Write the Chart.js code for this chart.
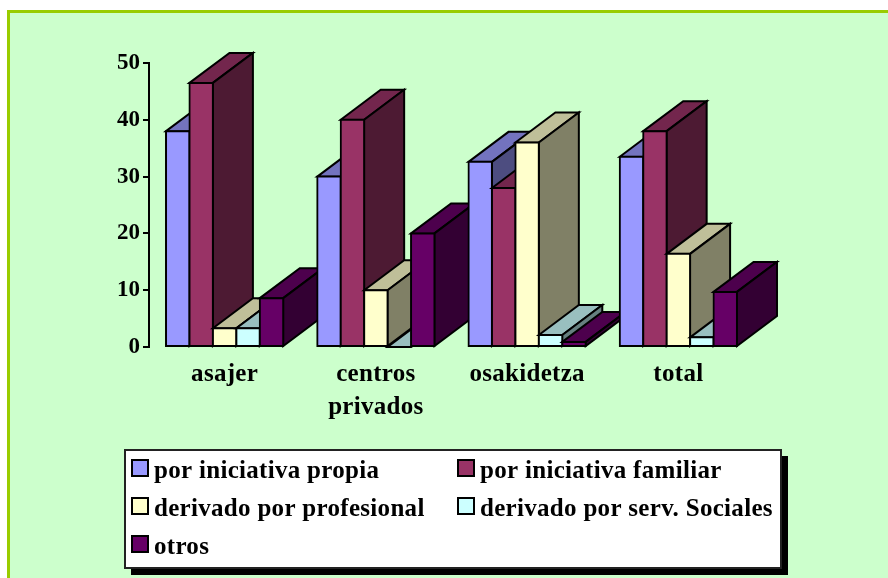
<!DOCTYPE html>
<html><head><meta charset="utf-8">
<style>html,body{margin:0;padding:0;background:#fff}canvas{display:block}#w{width:888px;height:578px;position:relative}</style>
<script src="https://cdn.jsdelivr.net/npm/chart.js@4"></script></head>
<body><div id="w"><canvas id="c" width="888" height="578"></canvas></div>
<script>
const categories = [["asajer"],["centros","privados"],["osakidetza"],["total"]];
const seriesNames = ["por iniciativa propia","por iniciativa familiar","derivado por profesional","derivado por serv. Sociales","otros"];
const propia = [38,30,32.6,33.5];
const familiar = [46.5,40,28,38];
const profesional = [3.3,10,36,16.4];
const sociales = [3.3,0,2.1,1.7];
const otros = [8.6,20,0.9,9.7];
const values = [propia,familiar,profesional,sociales,otros];
const frontColors = ["#9999FF","#993366","#FFFFCC","#CCFFFF","#660066"];
const topColors = ["#7373BF","#73264D","#BFBF99","#99BFBF","#4D004D"];
const sideColors = ["#4D4D80","#4D1A33","#808066","#668080","#330033"];
const yTicks = {min:0,max:50,step:10};
const FONT = '"Liberation Serif"';
const TRACK = '0.3px';
const depthX = 40, depthY = 30;

const frame = {id:'frame',beforeDraw(ch){const g=ch.ctx;g.save();
  g.fillStyle='#CCFFCC';g.fillRect(7,10,881,568);
  g.fillStyle='#99CC00';g.fillRect(7,10,881,3);g.fillRect(7,10,3,568);g.restore();
  g.letterSpacing=TRACK;}};

function poly(g,pts,fill){g.beginPath();pts.forEach((p,i)=>i?g.lineTo(p[0],p[1]):g.moveTo(p[0],p[1]));g.closePath();g.fillStyle=fill;g.fill();g.stroke();}
const bars3d = {id:'bars3d',beforeDatasetsDraw(ch){
  const g=ch.ctx;g.save();g.lineWidth=2;g.strokeStyle='#000';g.lineJoin='miter';
  categories.forEach((_,i)=>{
    values.forEach((_,d)=>{
      const el=ch.getDatasetMeta(d).data[i];
      const {x,y,base,width}=el.getProps(['x','y','base','width'],true);
      const l=x-width/2,r=x+width/2;
      poly(g,[[l,y],[l+depthX,y-depthY],[r+depthX,y-depthY],[r,y]],topColors[d]);
      poly(g,[[r,y],[r+depthX,y-depthY],[r+depthX,base-depthY],[r,base]],sideColors[d]);
      el.draw(g,ch.chartArea);
    });
  });
  g.restore();g.letterSpacing='0px';return false;}};

const legendBox = {id:'legendBox',afterDraw(ch){
  const g=ch.ctx;g.save();
  g.fillStyle='#000';g.fillRect(131,456,657,119);
  g.fillStyle='#fff';g.strokeStyle='#222';g.lineWidth=2;g.fillRect(125,450,656,118);g.strokeRect(125,450,656,118);
  const cols=[132,458],rows=[460,498,536];
  g.font='bold 25px '+FONT;g.textBaseline='alphabetic';g.textAlign='left';g.letterSpacing=TRACK;
  seriesNames.forEach((n,i)=>{
    const cx=cols[i%2],cy=rows[Math.floor(i/2)];
    g.fillStyle=frontColors[i];g.fillRect(cx,cy,16,16);g.strokeStyle='#000';g.lineWidth=2;g.strokeRect(cx,cy,16,16);
    g.fillStyle='#000';g.fillText(n,cx+22,cy+18);
  });
  g.restore();g.letterSpacing='0px';}};

new Chart(document.getElementById('c'),{
  type:'bar',
  data:{labels:categories,datasets:values.map((v,i)=>({label:seriesNames[i],data:v,backgroundColor:frontColors[i],borderColor:'#000',borderWidth:2,inflateAmount:1,borderSkipped:false}))},
  options:{responsive:false,animation:false,
    layout:{padding:{left:0,right:134,top:63,bottom:131}},
    categoryPercentage:0.775,barPercentage:1,
    plugins:{legend:{display:false},tooltip:{enabled:false},title:{display:false}},
    scales:{
      x:{grid:{display:false,drawTicks:false},border:{display:false},
        ticks:{color:'#000',padding:11,autoSkip:false,maxRotation:0,font:{family:FONT,weight:'bold',size:25,lineHeight:1.32}},
        afterFit(s){s.height=100;}},
      y:{min:yTicks.min,max:yTicks.max,
        grid:{drawOnChartArea:false,drawTicks:true,tickLength:6,color:'#000',lineWidth:2},
        border:{display:true,color:'#000',width:2},
        ticks:{stepSize:yTicks.step,color:'#000',padding:3,z:1,font:{family:FONT,weight:'bold',size:23}},
        afterFit(s){s.width=149;}}
    }},
  plugins:[frame,bars3d,legendBox]
});
</script></body></html>
